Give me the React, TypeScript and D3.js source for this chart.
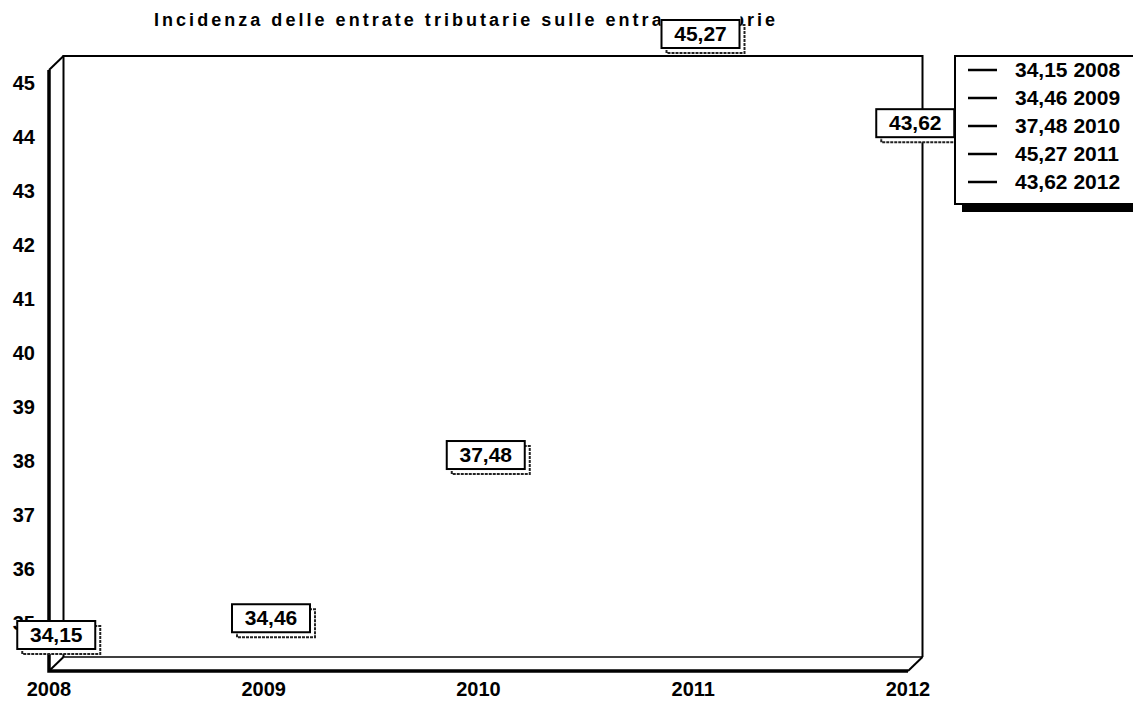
import { useRef, useEffect } from 'react'
import * as d3 from 'd3'

// values
const years = ['2008', '2009', '2010', '2011', '2012']
const values = [34.15, 34.46, 37.48, 45.27, 43.62]
const yTicks = [35, 36, 37, 38, 39, 40, 41, 42, 43, 44, 45]
const title = 'Incidenza delle entrate tributarie sulle entrate proprie'

const FONT = "'Liberation Sans', Arial, Helvetica, sans-serif"
const fmt = (v: number) => v.toFixed(2).replace('.', ',')

export default function App() {
  const svgRef = useRef<SVGSVGElement | null>(null)

  useEffect(() => {
    const svg = svgRef.current
    if (!svg) return

    const W = 1133
    const H = 708
    // front plane of the 3D plot area and the depth offset of the back plane
    const front = { left: 49, right: 908, top: 70, bottom: 671 }
    const depth = { dx: 14.5, dy: -14 }

    const sel = d3.select(svg)
    sel.selectAll('*').remove()
    sel.attr('width', W).attr('height', H)

    const x = d3.scalePoint<string>().domain(years).range([front.left, front.right])
    const [lo, hi] = d3.extent(values) as [number, number]
    const y = d3.scaleLinear().domain([lo, hi]).range([front.bottom, front.top])

    const bw = 78
    const bh = 28
    const boxPos = (v: number, i: number) => ({
      bx: x(years[i])! + depth.dx / 2 - bw / 2,
      by: y(v) + depth.dy / 2 - 29 - bh / 2,
    })

    // title (partly covered by the 2011 label box)
    sel.append('text')
      .attr('x', 154).attr('y', 26)
      .attr('font-family', FONT).attr('font-size', '18px').attr('font-weight', 'bold')
      .attr('textLength', 621).attr('lengthAdjust', 'spacing')
      .attr('fill', '#000')
      .text(title)

    // white padding of the label boxes: hides the title only
    values.forEach((v, i) => {
      const { bx, by } = boxPos(v, i)
      sel.append('rect')
        .attr('x', bx - 1).attr('y', by - 9).attr('width', bw + 2).attr('height', bh + 9)
        .attr('fill', '#fff')
    })

    // back plane
    const bl = front.left + depth.dx
    const br = front.right + depth.dx
    const bt = front.top + depth.dy
    const bb = front.bottom + depth.dy
    sel.append('path')
      .attr('d', `M${bl},${bb}V${bt}H${br}V${bb}`)
      .attr('fill', 'none').attr('stroke', '#000').attr('stroke-width', 2)
    sel.append('line')
      .attr('x1', bl).attr('x2', br).attr('y1', bb).attr('y2', bb)
      .attr('stroke', '#000').attr('stroke-width', 1.5)

    // depth edges
    const edges: [number, number][] = [
      [front.left, front.top],
      [front.left, front.bottom],
      [front.right, front.bottom],
    ]
    edges.forEach(([ex, ey]) => {
      sel.append('line')
        .attr('x1', ex).attr('y1', ey)
        .attr('x2', ex + depth.dx).attr('y2', ey + depth.dy)
        .attr('stroke', '#000').attr('stroke-width', 2)
    })

    // front left and bottom edges (thick)
    sel.append('path')
      .attr('d', `M${front.left},${front.top}V${front.bottom}H${front.right}`)
      .attr('fill', 'none').attr('stroke', '#000').attr('stroke-width', 3.5)

    // y tick labels
    yTicks.forEach((t) => {
      sel.append('text')
        .attr('x', 35).attr('y', y(t))
        .attr('text-anchor', 'end').attr('dominant-baseline', 'middle')
        .attr('font-family', FONT).attr('font-size', '20px').attr('font-weight', 'bold')
        .attr('fill', '#000')
        .text(t)
    })

    // x labels
    years.forEach((yr) => {
      sel.append('text')
        .attr('x', x(yr)!).attr('y', 696)
        .attr('text-anchor', 'middle')
        .attr('font-family', FONT).attr('font-size', '20px').attr('font-weight', 'bold')
        .attr('fill', '#000')
        .text(yr)
    })

    // data label boxes
    values.forEach((v, i) => {
      const { bx, by } = boxPos(v, i)
      const g = sel.append('g').attr('transform', `translate(${bx},${by})`)
      g.append('rect')
        .attr('x', 5).attr('y', 5).attr('width', bw).attr('height', bh)
        .attr('fill', '#fff').attr('stroke', '#222').attr('stroke-width', 2)
        .attr('stroke-dasharray', '3,1')
      g.append('rect')
        .attr('x', 0).attr('y', 0).attr('width', bw).attr('height', bh)
        .attr('fill', '#fff').attr('stroke', '#000').attr('stroke-width', 2)
      g.append('text')
        .attr('x', bw / 2).attr('y', bh / 2 + 1)
        .attr('text-anchor', 'middle').attr('dominant-baseline', 'middle')
        .attr('font-family', FONT).attr('font-size', '21px').attr('font-weight', 'bold')
        .attr('fill', '#000')
        .text(fmt(v))
    })

    // legend
    const lg = sel.append('g').attr('transform', 'translate(955,56)')
    lg.append('rect')
      .attr('x', 7).attr('y', 149).attr('width', 200).attr('height', 7)
      .attr('fill', '#000')
    lg.append('rect')
      .attr('x', 0).attr('y', 0).attr('width', 200).attr('height', 148)
      .attr('fill', '#fff').attr('stroke', '#000').attr('stroke-width', 2)
    values.forEach((v, i) => {
      const ly = 14 + i * 28
      lg.append('line')
        .attr('x1', 13).attr('x2', 42).attr('y1', ly).attr('y2', ly)
        .attr('stroke', '#000').attr('stroke-width', 2.5)
      lg.append('text')
        .attr('x', 60).attr('y', ly + 1)
        .attr('dominant-baseline', 'middle')
        .attr('font-family', FONT).attr('font-size', '21px').attr('font-weight', 'bold')
        .attr('fill', '#000')
        .text(`${fmt(v)} ${years[i]}`)
    })
  }, [])

  return (
    <svg
      ref={svgRef}
      width={1133}
      height={708}
      style={{ position: 'absolute', left: 0, top: 0, background: '#fff' }}
    />
  )
}
